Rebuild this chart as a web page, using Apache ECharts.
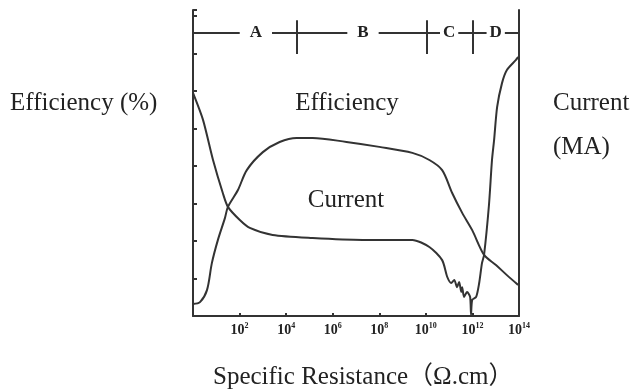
<!DOCTYPE html>
<html>
<head>
<meta charset="utf-8">
<title>Efficiency / Current vs Specific Resistance</title>
<script src="https://cdn.jsdelivr.net/npm/echarts@6/dist/echarts.min.js"></script>
<style>
  html, body { margin: 0; padding: 0; background: #fff; }
  #chart { width: 635px; height: 392px; }
</style>
</head>
<body>
<div id="chart"></div>
<script>
// x = log10 of specific resistance (Ω.cm), y = relative height (10 per axis tick)
var effX = [0, 0.30, 0.60, 0.81, 1.07, 1.37, 1.50, 1.93, 2.31, 3.00, 3.72, 4.45, 5.14, 6.59, 8.00, 9.42, 10.15, 10.70, 11.13, 11.56, 11.99, 12.50, 13.01, 13.48, 13.96];
var effY = [3.2, 3.7, 6.9, 14.1, 20.3, 26.1, 29.1, 33.6, 38.9, 43.7, 46.4, 47.5, 47.5, 46.4, 45.1, 43.5, 41.6, 38.9, 32.8, 27.5, 22.9, 16.3, 13.6, 10.9, 8.3];

var curX = [0, 0.43, 0.86, 1.28, 1.50, 2.01, 2.44, 3.42, 5.14, 7.28, 9.42, 10.15, 10.70, 10.92, 11.09, 11.22, 11.34, 11.43, 11.52, 11.56, 11.64, 11.77, 11.90, 11.94, 11.99, 12.16, 12.29, 12.41, 12.50, 12.71, 12.84, 12.93, 13.06, 13.27, 13.48, 13.87, 13.96];
var curY = [59.5, 52.3, 41.6, 32.8, 29.1, 25.6, 23.5, 21.6, 20.8, 20.3, 20.3, 18.4, 14.9, 10.4, 8.8, 9.6, 7.7, 9.1, 6.4, 7.7, 5.1, 6.4, 5.1, 0.3, 4.3, 5.1, 8.8, 14.1, 16.3, 29.6, 41.6, 46.9, 55.7, 62.1, 65.6, 68.3, 69.1];

// region header A-D
var regionBounds = [0, 4.45, 10.05, 12.0, 14];
var regionNames = ['A', 'B', 'C', 'D'];
var regionLabelX = [2.7, 7.3, 11.0, 13.0];
var headerY = 75.5;
var headerTick = [69.9, 78.9];

var xTicks = [0, 2, 4, 6, 8, 10, 12, 14];

var ink = '#333';
var serif = '"Liberation Serif", "DejaVu Serif", "Noto Sans CJK SC", serif';

function zip(xs, ys) {
  return xs.map(function (x, i) { return [x, ys[i]]; });
}

var headerLines = [
  [{ coord: [regionBounds[0], headerY] }, { coord: [regionBounds[regionBounds.length - 1], headerY] }]
];
regionBounds.slice(1, -1).forEach(function (b) {
  headerLines.push([{ coord: [b, headerTick[0]] }, { coord: [b, headerTick[1]] }]);
});

var headerLetters = regionNames.map(function (name, i) {
  var narrow = name === 'C' || name === 'D';
  return {
    name: name,
    coord: [regionLabelX[i], headerY],
    label: { padding: narrow ? [1, 3] : [1, 10] }
  };
});

var chart = echarts.init(document.getElementById('chart'), null, { renderer: 'canvas' });

var option = {
  animation: false,
  backgroundColor: '#fff',
  grid: { left: 193, right: 116, top: 10, bottom: 76 },
  xAxis: {
    type: 'value',
    min: xTicks[0],
    max: xTicks[xTicks.length - 1],
    interval: 2,
    axisLine: { lineStyle: { color: ink, width: 2 } },
    axisTick: { inside: true, length: 3, lineStyle: { color: ink, width: 2 } },
    splitLine: { show: false },
    axisLabel: {
      margin: 6,
      formatter: function (v) {
        return v === 0 ? '' : '{b|10}{s|' + v + '}';
      },
      rich: {
        b: { fontFamily: serif, fontSize: 14, fontWeight: 'bold', color: '#222', lineHeight: 16 },
        s: { fontFamily: serif, fontSize: 8, fontWeight: 'bold', color: '#222', lineHeight: 16, verticalAlign: 'top' }
      }
    }
  },
  yAxis: [
    {
      type: 'value',
      min: 0,
      max: 81.6,
      interval: 10,
      axisLine: { show: true, lineStyle: { color: ink, width: 2 } },
      axisTick: { show: true, inside: true, length: 4, lineStyle: { color: ink, width: 2 } },
      axisLabel: { show: false },
      splitLine: { show: false }
    },
    {
      type: 'value',
      position: 'right',
      min: 0,
      max: 81.6,
      axisLine: { show: true, lineStyle: { color: ink, width: 2 } },
      axisTick: { show: false },
      axisLabel: { show: false },
      splitLine: { show: false }
    }
  ],
  series: [
    {
      name: 'Efficiency',
      type: 'line',
      data: zip(effX, effY),
      symbol: 'none',
      smooth: 0.3,
      lineStyle: { color: ink, width: 2 }
    },
    {
      name: 'Current',
      type: 'line',
      data: zip(curX, curY),
      symbol: 'none',
      smooth: 0.25,
      lineStyle: { color: ink, width: 2 }
    },
    {
      // header band with regions A-D
      name: 'regions',
      type: 'line',
      data: [],
      markLine: {
        silent: true,
        symbol: ['none', 'none'],
        label: { show: false },
        lineStyle: { color: ink, width: 2, type: 'solid' },
        data: headerLines
      },
      markPoint: {
        silent: true,
        symbol: 'circle',
        symbolSize: 0,
        label: {
          show: true,
          position: 'inside',
          formatter: '{b}',
          fontFamily: serif,
          fontSize: 17,
          fontWeight: 'bold',
          color: '#222',
          backgroundColor: '#fff'
        },
        data: headerLetters
      }
    }
  ],
  graphic: [
    { type: 'text', style: { text: 'Efficiency (%)', x: 10, y: 103, font: '25px ' + serif, fill: '#222', verticalAlign: 'middle' } },
    { type: 'text', style: { text: 'Efficiency', x: 347, y: 103, font: '25px ' + serif, fill: '#222', align: 'center', verticalAlign: 'middle' } },
    { type: 'text', style: { text: 'Current', x: 346, y: 200, font: '25px ' + serif, fill: '#222', align: 'center', verticalAlign: 'middle' } },
    { type: 'text', style: { text: 'Current', x: 553, y: 103, font: '25px ' + serif, fill: '#222', verticalAlign: 'middle' } },
    { type: 'text', style: { text: '(MA)', x: 553, y: 147, font: '25px ' + serif, fill: '#222', verticalAlign: 'middle' } },
    { type: 'text', style: { text: 'Specific Resistance（Ω.cm）', x: 213, y: 377, font: '25px ' + serif, fill: '#222', verticalAlign: 'middle' } }
  ]
};

chart.setOption(option);
</script>
</body>
</html>
